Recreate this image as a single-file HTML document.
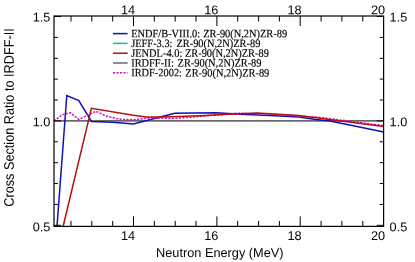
<!DOCTYPE html>
<html><head><meta charset="utf-8"><title>plot</title>
<style>html,body{margin:0;padding:0;background:#fff;}svg{display:block;will-change:transform;}text{text-rendering:geometricPrecision;}</style>
</head><body>
<svg width="415" height="262" viewBox="0 0 415 262">
<rect x="0" y="0" width="415" height="262" fill="#fff"/>
<defs><clipPath id="c"><rect x="54.0" y="16.0" width="329.6" height="210.4"/></clipPath></defs>
<g clip-path="url(#c)" fill="none" stroke-linejoin="miter">
<line x1="54.0" y1="120.8" x2="383.6" y2="120.8" stroke="#10b4b4" stroke-width="1.6"/>
<line x1="54.0" y1="120.8" x2="383.6" y2="120.8" stroke="#686868" stroke-width="1.5"/>
<polyline points="57.0,226.5 66.8,95.5 78.8,100.5 91.5,121.5 113.0,122.3 133.4,124.1 174.7,113.3 215.5,112.8 245.6,114.4 265.0,115.2 298.8,116.9 315.7,119.4 330.0,121.1 383.8,132.0" stroke="#1010b4" stroke-width="1.5"/>
<polyline points="54.0,121.0 62.4,114.6 70.4,112.8 78.7,119.5 96.0,111.3 105.7,115.9 116.5,118.5 123.0,119.6 137.5,119.6 144.0,118.4 153.6,117.7 172.0,118.6 195.0,116.9 237.0,113.2 265.0,113.8 298.8,116.0 320.0,117.4 383.8,125.6" stroke="#c814c8" stroke-width="1.5" stroke-dasharray="2.2,1.3"/>
<polyline points="63.1,226.5 91.4,108.3 133.2,115.3 146.9,116.9 163.7,116.9 200.0,115.7 228.7,114.3 257.4,113.0 298.8,115.5 320.0,118.2 383.8,126.6" stroke="#b41010" stroke-width="1.5"/>
</g>
<rect x="54.0" y="16.0" width="329.6" height="210.4" fill="none" stroke="#000" stroke-width="1.2"/>
<path d="M71.0 16.0v5.5M71.0 226.4v-5.5M91.8 16.0v5.5M91.8 226.4v-5.5M112.7 16.0v5.5M112.7 226.4v-5.5M133.5 16.0v10.0M133.5 226.4v-10.0M154.3 16.0v5.5M154.3 226.4v-5.5M175.2 16.0v5.5M175.2 226.4v-5.5M196.0 16.0v5.5M196.0 226.4v-5.5M216.9 16.0v10.0M216.9 226.4v-10.0M237.7 16.0v5.5M237.7 226.4v-5.5M258.6 16.0v5.5M258.6 226.4v-5.5M279.4 16.0v5.5M279.4 226.4v-5.5M300.2 16.0v10.0M300.2 226.4v-10.0M321.1 16.0v5.5M321.1 226.4v-5.5M341.9 16.0v5.5M341.9 226.4v-5.5M362.8 16.0v5.5M362.8 226.4v-5.5M54.0 225.3h7.0M383.6 225.3h-7.0M54.0 204.4h3.9M383.6 204.4h-3.9M54.0 183.5h3.9M383.6 183.5h-3.9M54.0 162.7h3.9M383.6 162.7h-3.9M54.0 141.8h3.9M383.6 141.8h-3.9M54.0 120.9h7.0M383.6 120.9h-7.0M54.0 100.0h3.9M383.6 100.0h-3.9M54.0 79.1h3.9M383.6 79.1h-3.9M54.0 58.3h3.9M383.6 58.3h-3.9M54.0 37.4h3.9M383.6 37.4h-3.9M54.0 16.5h7.0M383.6 16.5h-7.0" stroke="#000" stroke-width="1" fill="none"/>
<g font-family="'Liberation Sans', sans-serif" font-size="12.7" fill="#000">
<text x="135.0" y="14.3" text-anchor="end" transform="rotate(0.03 135.0 14.3)">14</text>
<text x="135.0" y="240.1" text-anchor="end" transform="rotate(0.03 135.0 240.1)">14</text>
<text x="218.4" y="14.3" text-anchor="end" transform="rotate(0.03 218.4 14.3)">16</text>
<text x="218.4" y="240.1" text-anchor="end" transform="rotate(0.03 218.4 240.1)">16</text>
<text x="301.7" y="14.3" text-anchor="end" transform="rotate(0.03 301.7 14.3)">18</text>
<text x="301.7" y="240.1" text-anchor="end" transform="rotate(0.03 301.7 240.1)">18</text>
<text x="385.1" y="14.3" text-anchor="end" transform="rotate(0.03 385.1 14.3)">20</text>
<text x="385.1" y="240.1" text-anchor="end" transform="rotate(0.03 385.1 240.1)">20</text>
<text x="50.3" y="21.5" text-anchor="end" transform="rotate(0.03 50.3 21.5)">1.5</text>
<text x="389.6" y="21.5" text-anchor="start" transform="rotate(0.03 389.6 21.5)">1.5</text>
<text x="50.3" y="126.2" text-anchor="end" transform="rotate(0.03 50.3 126.2)">1.0</text>
<text x="389.6" y="126.2" text-anchor="start" transform="rotate(0.03 389.6 126.2)">1.0</text>
<text x="50.3" y="231.3" text-anchor="end" transform="rotate(0.03 50.3 231.3)">0.5</text>
<text x="389.6" y="231.3" text-anchor="start" transform="rotate(0.03 389.6 231.3)">0.5</text>
<text x="219.8" y="257.0" text-anchor="middle" font-size="12.75" transform="rotate(0.03 219.8 257.0)">Neutron Energy (MeV)</text>
<text transform="translate(13.8,117.5) rotate(-90.03) scale(1,1.09)" text-anchor="middle" font-size="12.7">Cross Section Ratio to IRDFF-II</text>
</g>
<g font-family="'Liberation Serif', serif" font-size="10.4" fill="#000">
<line x1="113.0" y1="33.6" x2="127.6" y2="33.6" stroke="#1010b4" stroke-width="1.5"/>
<text transform="translate(131.2,37.15) scale(1,1.08) rotate(0.03)" stroke="#000" stroke-width="0.15">ENDF/B-VIII.0: <tspan dx="0.4">ZR-90(N,2N)ZR-89</tspan></text>
<line x1="113.0" y1="43.4" x2="127.6" y2="43.4" stroke="#10b4b4" stroke-width="1.5"/>
<text transform="translate(131.2,46.95) scale(1,1.08) rotate(0.03)" stroke="#000" stroke-width="0.15">JEFF-3.3: <tspan dx="1.3">ZR-90(N,2N)ZR-89</tspan></text>
<line x1="113.0" y1="53.2" x2="127.6" y2="53.2" stroke="#b41010" stroke-width="1.5"/>
<text transform="translate(131.2,56.75) scale(1,1.08) rotate(0.03)" stroke="#000" stroke-width="0.15">JENDL-4.0: <tspan dx="0.0">ZR-90(N,2N)ZR-89</tspan></text>
<line x1="113.0" y1="63.0" x2="127.6" y2="63.0" stroke="#686868" stroke-width="1.5"/>
<text transform="translate(131.2,66.55) scale(1,1.08) rotate(0.03)" stroke="#000" stroke-width="0.15">IRDFF-II: <tspan dx="1.0">ZR-90(N,2N)ZR-89</tspan></text>
<line x1="113.0" y1="72.8" x2="127.6" y2="72.8" stroke="#c814c8" stroke-width="1.5" stroke-dasharray="2.2,1.3"/>
<text transform="translate(131.2,76.35) scale(1,1.08) rotate(0.03)" stroke="#000" stroke-width="0.15">IRDF-2002: <tspan dx="0.7">ZR-90(N,2N)ZR-89</tspan></text>
</g>
</svg>
</body></html>
